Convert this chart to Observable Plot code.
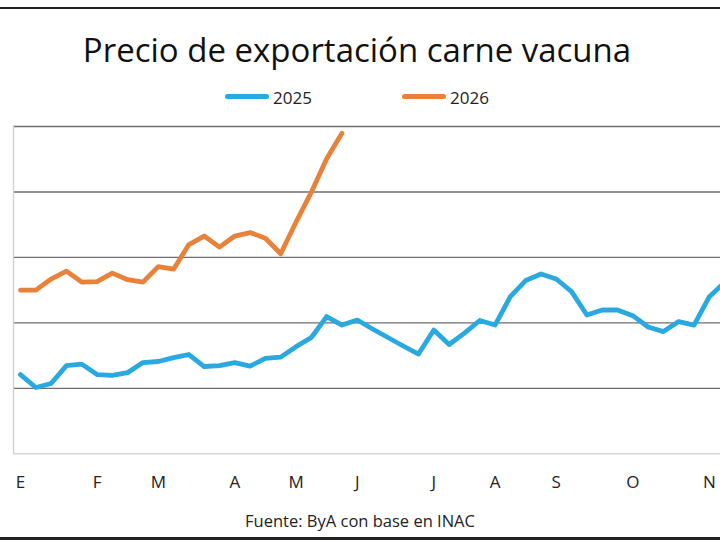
<!DOCTYPE html>
<html><head><meta charset="utf-8">
<script src="https://cdn.jsdelivr.net/npm/d3@7"></script>
<script src="https://cdn.jsdelivr.net/npm/@observablehq/plot@0.6"></script>
<style>
body{margin:0;background:#fff;}
#wrap{position:relative;width:720px;height:540px;overflow:hidden;font-family:"Open Sans",sans-serif;background:#fff;}
#wrap svg{max-width:none !important;position:absolute;left:0;top:0;}
#topb{position:absolute;left:0;top:7px;width:720px;height:2px;background:#222;}
#botb{position:absolute;left:0;top:537px;width:720px;height:3px;background:#222;}
#title{position:absolute;left:-3px;width:720px;top:33px;text-align:center;font-size:33px;line-height:33px;color:#111;white-space:nowrap;}
.leg{position:absolute;top:89px;font-size:17px;line-height:17px;color:#222;}
.sw{position:absolute;height:5px;border-radius:3px;top:94px;}
#cap{position:absolute;left:0;width:720px;top:513px;text-align:center;font-size:16.5px;line-height:16px;color:#222;}
</style></head>
<body>
<div id="wrap">
  <div id="chart"></div>
  <div id="topb"></div>
  <div id="botb"></div>
  <div id="title">Precio de exportación carne vacuna</div>
  <div class="sw" id="sw1"></div><div class="leg" id="lg1"></div>
  <div class="sw" id="sw2"></div><div class="leg" id="lg2"></div>
  <div id="cap">Fuente: ByA con base en INAC</div>
</div>
<script>
// Series (weekly values)
const seriesNames = ["2025", "2026"];
const seriesColors = ["#29a9e0", "#e8823a"];
const values2025 = [4163,4104,4122,4204,4211,4163,4159,4172,4218,4223,4241,4255,4200,4204,4218,4202,
  4237,4243,4291,4333,4429,4390,4413,4372,4333,4294,4257,4367,4301,4353,4411,4390,4520,4594,4624,4601,
  4543,4436,4459,4459,4433,4381,4360,4406,4390,4520,4585];
const values2026 = [4550,4550,4601,4637,4587,4589,4628,4598,4587,4658,4646,4759,4798,4747,4798,4814,
  4788,4717,4862,4999,5152,5269];
// Month labels and the week index where each month starts
const monthLabels = ["E","F","M","A","M","J","J","A","S","O","N"];
const monthWeeks = [0,5,9,14,18,22,27,31,35,40,45];
const yTicks = [3800,4100,4400,4700,5000,5300];

const d25 = values2025.map((v,i)=>({week:i, value:v}));
const d26 = values2026.map((v,i)=>({week:i, value:v}));

const chart = Plot.plot({
  width: 816, height: 500,
  marginLeft: 13, marginRight: 0, marginTop: 126, marginBottom: 46.7,
  x: {type:"linear", domain:[-0.4575, 52], axis:null},
  y: {domain:[yTicks[0], yTicks[yTicks.length-1]], axis:null},
  style: {fontFamily:"Open Sans, sans-serif", background:"transparent", maxWidth:"none"},
  marks: [
    Plot.ruleY(yTicks.slice(1), {stroke:"#6e6e6e", strokeWidth:1.4}),
    Plot.ruleY([yTicks[0]], {stroke:"#d6d6d6", strokeWidth:1.5}),
    Plot.ruleX([-0.4575], {y1:yTicks[0], y2:yTicks[yTicks.length-1], stroke:"#c6d6bc", strokeWidth:1.3}),
    Plot.axisX({ticks: monthWeeks, tickFormat: (d)=>monthLabels[monthWeeks.indexOf(d)], tickSize:0, tickPadding:22, fontSize:17, fill:"#222", anchor:"bottom"}),
    Plot.line(d25, {x:"week", y:"value", stroke:seriesColors[0], strokeWidth:4.8, strokeLinejoin:"round", strokeLinecap:"round"}),
    Plot.line(d26, {x:"week", y:"value", stroke:seriesColors[1], strokeWidth:4.8, strokeLinejoin:"round", strokeLinecap:"round"})
  ]
});
document.getElementById("chart").appendChild(chart);

// legend
const sw1 = document.getElementById("sw1"), sw2 = document.getElementById("sw2");
sw1.style.left="225px"; sw1.style.width="44px"; sw1.style.background=seriesColors[0];
sw2.style.left="402px"; sw2.style.width="44px"; sw2.style.background=seriesColors[1];
const lg1 = document.getElementById("lg1"), lg2 = document.getElementById("lg2");
lg1.textContent = seriesNames[0]; lg1.style.left="273px";
lg2.textContent = seriesNames[1]; lg2.style.left="450px";
</script>
</body></html>
